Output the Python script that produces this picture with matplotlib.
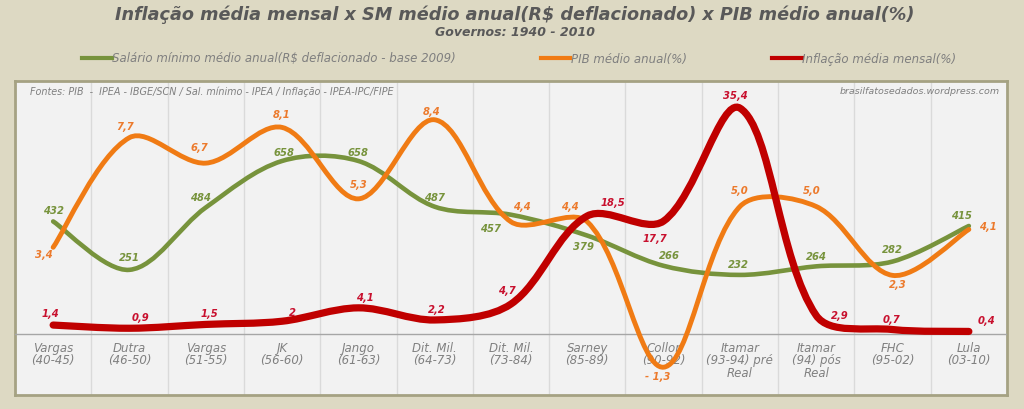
import matplotlib
matplotlib.use("Agg")
import matplotlib.pyplot as plt
from matplotlib.path import Path
from matplotlib.patches import PathPatch
from matplotlib.lines import Line2D
import matplotlib.transforms as mtransforms
import numpy as np

# ---- data ----
governos = ["Vargas\n(40-45)", "Dutra\n(46-50)", "Vargas\n(51-55)", "JK\n(56-60)",
            "Jango\n(61-63)", "Dit. Mil.\n(64-73)", "Dit. Mil.\n(73-84)", "Sarney\n(85-89)",
            "Collor\n(90-92)", "Itamar\n(93-94) pré\nReal", "Itamar\n(94) pós\nReal",
            "FHC\n(95-02)", "Lula\n(03-10)"]
salario = [432, 251, 484, 658, 658, 487, 457, 379, 266, 232, 264, 282, 415]
pib = [3.4, 7.7, 6.7, 8.1, 5.3, 8.4, 4.4, 4.4, -1.3, 5.0, 5.0, 2.3, 4.1]
inflacao = [1.4, 0.9, 1.5, 2.0, 4.1, 2.2, 4.7, 18.5, 17.7, 35.4, 2.9, 0.7, 0.4]

GREEN = "#77933c"
ORANGE = "#f07b14"
RED = "#c00000"
GREEN_TXT = "#77933c"
ORANGE_TXT = "#ec7a2c"
RED_TXT = "#c8102e"
BG = "#ddd9c3"


def smooth_path(a, xs, ys):
    """Smoothed line (cubic bezier), tangents weighted by on-screen segment length."""
    pts = np.column_stack([xs, ys]).astype(float)
    scr = a.transData.transform(pts)
    n = len(pts)
    seg = np.hypot(*np.diff(scr, axis=0).T)
    verts = [tuple(pts[0])]
    codes = [Path.MOVETO]

    def tangent(i):
        p0 = pts[max(i - 1, 0)]
        p2 = pts[min(i + 1, n - 1)]
        return p2 - p0

    def weights(i):
        if i == 0 or i == n - 1:
            return 1 / 6, 1 / 6
        dp, dn = seg[i - 1], seg[i]
        tot = dp + dn
        return dp / tot / 3, dn / tot / 3

    for i in range(n - 1):
        c1 = pts[i] + tangent(i) * weights(i)[1]
        c2 = pts[i + 1] - tangent(i + 1) * weights(i + 1)[0]
        verts += [tuple(c1), tuple(c2), tuple(pts[i + 1])]
        codes += [Path.CURVE4] * 3
    return Path(verts, codes)


def br(v, fmt):
    s = format(v, fmt).replace(".", ",")
    return s.replace("-", "- ")


fig = plt.figure(figsize=(10.24, 4.09), dpi=100, facecolor=BG)
ax = fig.add_axes([15 / 1024, 14 / 409, 992 / 1024, 314 / 409])
ax2 = ax.twinx()
ax3 = ax.twinx()

x = list(range(len(governos)))

ax.set_facecolor("#f2f2f2")
for a in (ax, ax2, ax3):
    a.set_xlim(-0.5, len(governos) - 0.5)
ax.set_ylim(-217, 957)
ax2.set_ylim(-2.39, 9.92)
ax3.set_ylim(-9.56, 39.65)

for a in (ax, ax2, ax3):
    a.set_yticks([])
    a.tick_params(axis="x", which="both", length=0, labelbottom=False)
for a in (ax2, ax3):
    for s in a.spines.values():
        s.set_visible(False)
for s in ax.spines.values():
    s.set_color("#a5a283")
    s.set_linewidth(2)

# vertical grid between categories
ax.set_xticks([i + 0.5 for i in x[:-1]], minor=True)
ax.set_xticks([])
ax.grid(which="minor", axis="x", color="#dadada", linewidth=1)
ax2.axhline(0, color="#a6a6a6", linewidth=1)

# series
ax.add_patch(PathPatch(smooth_path(ax, x, salario), fill=False, edgecolor=GREEN,
                       linewidth=3.3, capstyle="round", zorder=3))
ax2.add_patch(PathPatch(smooth_path(ax2, x, pib), fill=False, edgecolor=ORANGE,
                        linewidth=3.5, capstyle="round", zorder=3))
ax3.add_patch(PathPatch(smooth_path(ax3, x, inflacao), fill=False, edgecolor=RED,
                        linewidth=5.2, capstyle="round", zorder=3))

# data labels (offsets in pixels)
sal_off = [(0, 10), (0, 12), (-5, 10), (2, 8), (0, 8), (0, 9), (-20, -14), (-4, -11),
           (6, 10), (-2, 10), (0, 9), (0, 12), (-7, 10)]
pib_off = [(-9, -8), (-4, 11), (-6, 15), (0, 12), (0, 14), (-3, 8), (11, 15), (-17, 15),
           (-6, -10), (0, 15), (-4, 15), (5, -10), (19, 2)]
inf_off = [(-3, 11), (11, 10), (4, 10), (10, 8), (7, 10), (2, 10), (-4, 13), (26, 13),
           (-9, -18), (-5, 12), (24, -1), (-1, 10), (18, 10)]

lbl = dict(ha="center", va="center", fontsize=7.2, fontweight="bold",
           fontstyle="italic", textcoords="offset pixels", zorder=5)
for xi, v, off in zip(x, salario, sal_off):
    ax.annotate(f"{v}", (xi, v), xytext=off, color=GREEN_TXT, **lbl)
for xi, v, off in zip(x, pib, pib_off):
    ax2.annotate(br(v, ".1f"), (xi, v), xytext=off, color=ORANGE_TXT, **lbl)
for xi, v, off in zip(x, inflacao, inf_off):
    ax3.annotate(br(v, "g"), (xi, v), xytext=off, color=RED_TXT, **lbl)

# category labels inside the plot area
trans = mtransforms.blended_transform_factory(ax.transData, ax.transAxes)
for xi, name in zip(x, governos):
    ax.text(xi, 0.168, name, transform=trans, ha="center", va="top",
            fontsize=8.5, fontstyle="italic", color="#808080", linespacing=0.92)

ax.text(0.015, 0.965, "Fontes: PIB  -  IPEA - IBGE/SCN / Sal. mínimo - IPEA / Inflação - IPEA-IPC/FIPE",
        transform=ax.transAxes, ha="left", va="center", fontsize=6.9,
        fontstyle="italic", color="#7f7f7f")
ax.text(0.993, 0.968, "brasilfatosedados.wordpress.com", transform=ax.transAxes,
        ha="right", va="center", fontsize=6.8, fontstyle="italic", color="#7f7f7f")

# titles
fig.text(0.503, 1 - 15 / 409, "Inflação média mensal x SM médio anual(R$ deflacionado) x PIB médio anual(%)",
         ha="center", va="center", fontsize=12.7, fontweight="bold", fontstyle="italic",
         color="#595959")
fig.text(0.503, 1 - 32 / 409, "Governos: 1940 - 2010", ha="center", va="center",
         fontsize=9, fontweight="bold", fontstyle="italic", color="#595959")

# legend
handles = [Line2D([], [], color=GREEN, linewidth=3),
           Line2D([], [], color=ORANGE, linewidth=3),
           Line2D([], [], color=RED, linewidth=3)]
names = ["Salário mínimo médio anual(R$ deflacionado - base 2009)",
         "PIB médio anual(%)", "Inflação média mensal(%)"]
leg = fig.legend(handles, names, loc="center", bbox_to_anchor=(0.507, 1 - 59 / 409),
                 ncol=3, frameon=False, handlelength=2.5, handletextpad=0.05,
                 columnspacing=7.2, prop={"size": 8.5, "style": "italic"})
for t in leg.get_texts():
    t.set_color("#7f7f7f")

fig.savefig("out.png", dpi=100, facecolor=BG)
